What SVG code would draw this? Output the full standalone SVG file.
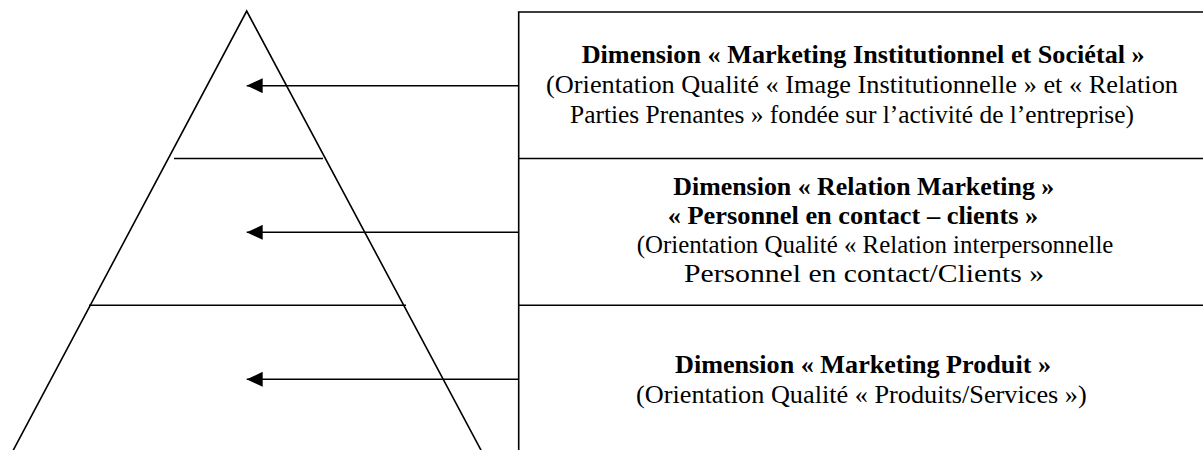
<svg xmlns="http://www.w3.org/2000/svg" width="1203" height="450" viewBox="0 0 1203 450">
<style>
.ln{stroke:#000;stroke-width:1.6;fill:none}
.t{font-family:"Liberation Serif","Times New Roman",serif;font-size:26px;fill:#000}
.b{font-weight:bold}
</style>
<defs>
<marker id="ah" markerWidth="16" markerHeight="15" refX="16" refY="7.5" orient="auto" markerUnits="userSpaceOnUse">
<path d="M0,0 L16,7.5 L0,15 Z" fill="#000"/>
</marker>
</defs>
<rect width="1203" height="450" fill="#fff"/>
<g id="pyramid">
<polyline class="ln" points="12.3,452 246.7,11 482,452"/>
<line class="ln" x1="174" y1="158.5" x2="323" y2="158.5"/>
<line class="ln" x1="89" y1="305.3" x2="406" y2="305.3"/>
</g>
<g id="box-frame">
<path class="ln" d="M1205,12 H518.7 V452"/>
<line class="ln" x1="518.7" y1="158.5" x2="1205" y2="158.5"/>
<line class="ln" x1="518.7" y1="305.3" x2="1205" y2="305.3"/>
</g>
<g id="node-institutionnel">
<text class="t b" x="581.7" y="63.3" textLength="563" lengthAdjust="spacingAndGlyphs">Dimension « Marketing Institutionnel et Sociétal »</text>
<text class="t" x="546" y="93.3" textLength="632" lengthAdjust="spacingAndGlyphs">(Orientation Qualité « Image Institutionnelle » et « Relation</text>
<text class="t" x="570" y="122.7" textLength="564" lengthAdjust="spacingAndGlyphs">Parties Prenantes » fondée sur l’activité de l’entreprise)</text>
</g>
<g id="node-relation">
<text class="t b" x="673.3" y="195" textLength="381" lengthAdjust="spacingAndGlyphs">Dimension « Relation Marketing »</text>
<text class="t b" x="667.7" y="224.3" textLength="370.6" lengthAdjust="spacingAndGlyphs">« Personnel en contact – clients »</text>
<text class="t" x="636.7" y="253.3" textLength="476.7" lengthAdjust="spacingAndGlyphs">(Orientation Qualité « Relation interpersonnelle</text>
<text class="t" x="684" y="281.7" textLength="360" lengthAdjust="spacingAndGlyphs">Personnel en contact/Clients »</text>
</g>
<g id="node-produit">
<text class="t b" x="675" y="373.3" textLength="376" lengthAdjust="spacingAndGlyphs">Dimension « Marketing Produit »</text>
<text class="t" x="636" y="403.3" textLength="450.7" lengthAdjust="spacingAndGlyphs">(Orientation Qualité « Produits/Services »)</text>
</g>
<g id="connectors">
<line class="ln" x1="518.7" y1="85.7" x2="246.7" y2="85.7" marker-end="url(#ah)"/>
<line class="ln" x1="518.7" y1="232.3" x2="246.7" y2="232.3" marker-end="url(#ah)"/>
<line class="ln" x1="518.7" y1="379.3" x2="246.7" y2="379.3" marker-end="url(#ah)"/>
</g>
</svg>
